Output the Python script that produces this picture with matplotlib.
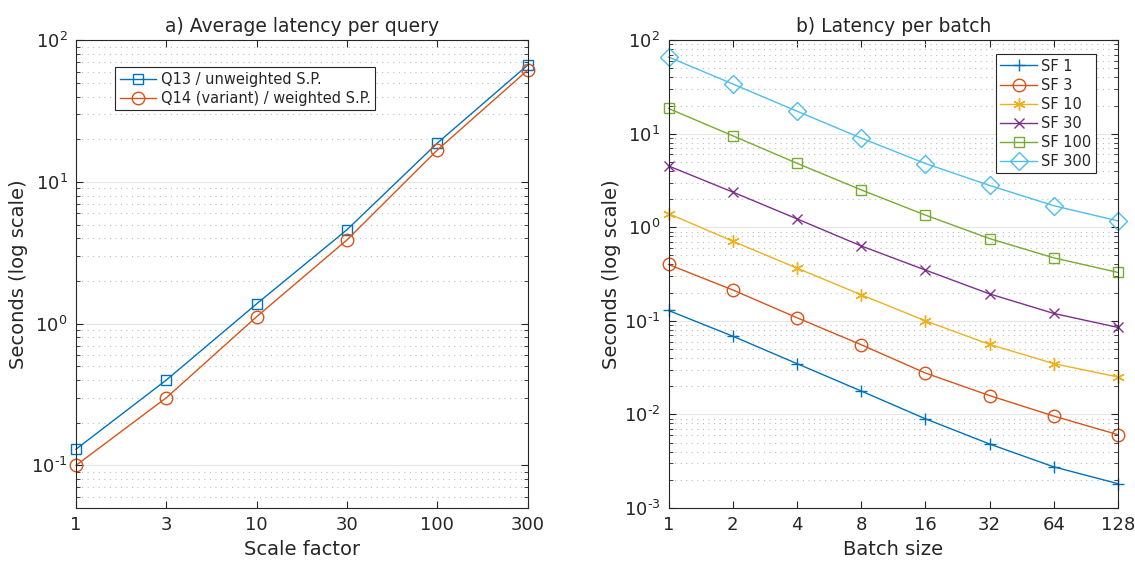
import matplotlib
matplotlib.use('Agg')
import matplotlib.pyplot as plt
import numpy as np
from matplotlib.ticker import (LogLocator, NullFormatter, FixedLocator, FixedFormatter,
                               NullLocator, FuncFormatter)

# 데이터
scale_factors = ['1', '3', '10', '30', '100', '300']
q13 = [0.13, 0.40, 1.38, 4.6, 18.8, 66.7]
q14 = [0.10, 0.30, 1.12, 3.9, 16.8, 61.5]

batch_sizes = [1, 2, 4, 8, 16, 32, 64, 128]
sf_labels = ['SF 1', 'SF 3', 'SF 10', 'SF 30', 'SF 100', 'SF 300']
sf1 = [0.129, 0.0686, 0.0349, 0.0178, 0.00898, 0.00483, 0.00275, 0.00182]
sf3 = [0.40, 0.214, 0.108, 0.0556, 0.0277, 0.0159, 0.0096, 0.00607]
sf10 = [1.40, 0.71, 0.366, 0.19, 0.100, 0.056, 0.0349, 0.0251]
sf30 = [4.52, 2.38, 1.23, 0.632, 0.349, 0.194, 0.120, 0.085]
sf100 = [18.6, 9.5, 4.83, 2.51, 1.35, 0.757, 0.471, 0.329]
sf300 = [66.0, 34.0, 17.4, 8.98, 4.8, 2.8, 1.70, 1.17]
sf_series = [sf1, sf3, sf10, sf30, sf100, sf300]

colors = ['#0072BD', '#D95319', '#EDB120', '#7E2F8E', '#77AC30', '#4DBEEE']
markers = ['+', 'o', (6, 2, 0), 'x', 's', 'D']
msizes = [9, 9, 9, 7, 7, 9]

txt = '#262626'
plt.rcParams['font.family'] = 'DejaVu Sans'
plt.rcParams['font.size'] = 13
plt.rcParams['mathtext.fontset'] = 'dejavusans'
plt.rcParams['axes.unicode_minus'] = False
plt.rcParams['text.color'] = txt
plt.rcParams['axes.labelcolor'] = txt
plt.rcParams['xtick.color'] = txt
plt.rcParams['ytick.color'] = txt


def pow10(v, p):
    e = int(round(np.log10(v)))
    s = str(e).replace('-', '\u2010')
    return r'$\mathregular{10^{%s}}$' % s


def style_axes(ax):
    ax.set_facecolor('white')
    for s in ax.spines.values():
        s.set_color(txt)
        s.set_linewidth(0.8)
    ax.tick_params(which='both', direction='in', top=True, right=True, labelsize=13)
    ax.tick_params(which='major', length=5, pad=6)
    ax.tick_params(which='minor', length=3)
    ax.yaxis.set_major_formatter(FuncFormatter(pow10))
    ax.yaxis.set_minor_locator(LogLocator(base=10, subs=range(2, 10)))
    ax.yaxis.set_minor_formatter(NullFormatter())
    ax.grid(True, which='major', axis='y', color='#e6e6e6', linewidth=0.8)
    ax.grid(True, which='minor', axis='y', color='#bdbdbd', linestyle=(0, (1, 4)), linewidth=0.8)
    ax.set_axisbelow(True)


fig = plt.figure(figsize=(11.35, 5.61), dpi=100)

# a) 쿼리당 평균 지연
ax1 = fig.add_axes([0.067, 0.0945, 0.398, 0.834])
pos = list(range(len(scale_factors)))
ax1.plot(pos, q13, color=colors[0], marker='s', ms=7, mfc='none', mew=1, lw=1,
         clip_on=False, label='Q13 / unweighted S.P.')
ax1.plot(pos, q14, color=colors[1], marker='o', ms=9, mfc='none', mew=1, lw=1,
         clip_on=False, label='Q14 (variant) / weighted S.P.')
ax1.set_yscale('log')
ax1.set_ylim(0.05, 100)
ax1.set_xlim(0, len(scale_factors) - 1)
ax1.xaxis.set_major_locator(FixedLocator(pos))
ax1.xaxis.set_major_formatter(FixedFormatter(scale_factors))
ax1.xaxis.set_minor_locator(NullLocator())
style_axes(ax1)
ax1.set_xlabel('Scale factor', fontsize=14)
ax1.set_ylabel('Seconds (log scale)', fontsize=14, labelpad=2)
ax1.set_title('a) Average latency per query', fontsize=13.5)
leg1 = ax1.legend(loc='upper left', bbox_to_anchor=(0.087, 0.942), fancybox=False,
                  edgecolor=txt, framealpha=1, fontsize=10.5, borderpad=0.3,
                  handlelength=2.5, labelspacing=0.3, handletextpad=0.3, borderaxespad=0)
leg1.get_frame().set_linewidth(0.8)

# b) 배치당 지연
ax2 = fig.add_axes([0.589, 0.0945, 0.396, 0.834])
for vals, lab, c, m, s in zip(sf_series, sf_labels, colors, markers, msizes):
    ax2.plot(batch_sizes, vals, color=c, marker=m, ms=s, mfc='none', mew=1, lw=1,
             clip_on=False, label=lab)
ax2.set_xscale('log', base=2)
ax2.set_yscale('log')
ax2.set_xlim(1, 128)
ax2.set_ylim(1e-3, 100)
ax2.xaxis.set_major_locator(FixedLocator(batch_sizes))
ax2.xaxis.set_major_formatter(FixedFormatter([str(b) for b in batch_sizes]))
ax2.xaxis.set_minor_locator(NullLocator())
style_axes(ax2)
ax2.set_xlabel('Batch size', fontsize=14)
ax2.set_ylabel('Seconds (log scale)', fontsize=14, labelpad=2)
ax2.set_title('b) Latency per batch', fontsize=13.5)
leg2 = ax2.legend(loc='upper right', bbox_to_anchor=(0.951, 0.97), fancybox=False,
                  edgecolor=txt, framealpha=1, fontsize=10.5, borderpad=0.3,
                  handlelength=2.5, labelspacing=0.28, handletextpad=0.3, borderaxespad=0)
leg2.get_frame().set_linewidth(0.8)

fig.savefig('out.png', dpi=100, facecolor='white')
